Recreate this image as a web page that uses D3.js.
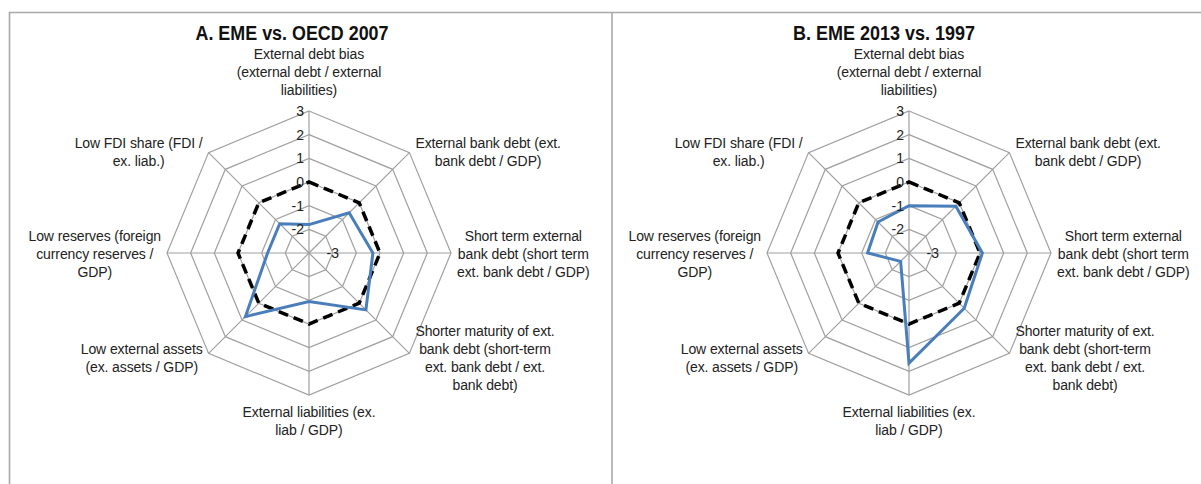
<!DOCTYPE html>
<html>
<head>
<meta charset="utf-8">
<script src="https://cdn.jsdelivr.net/npm/d3@7"></script>
<style>
  body { margin: 0; background: #fff; }
  svg { display: block; font-family: "Liberation Sans", Arial, sans-serif; }
</style>
</head>
<body>
<div class="container"></div>
<script>
'use strict';

// Axis labels, clockwise from the top
const axisLabels = [
  ['External debt bias', '(external debt / external', 'liabilities)'],
  ['External bank debt (ext.', 'bank debt / GDP)'],
  ['Short term external', 'bank debt (short term', 'ext. bank debt / GDP)'],
  ['Shorter maturity of ext.', 'bank debt (short-term', 'ext. bank debt / ext.', 'bank debt)'],
  ['External liabilities (ex.', 'liab / GDP)'],
  ['Low external assets', '(ex. assets / GDP)'],
  ['Low reserves (foreign', 'currency reserves /', 'GDP)'],
  ['Low FDI share (FDI /', 'ex. liab.)']
];

const tickValues = [3, 2, 1, 0, -1, -2, -3];

// Panel A
const emeVsOecd2007 = [-1.8, -0.6, -0.3, 0.4, -0.95, 0.8, -1.25, -1.25];
const oecd2007 = [0, 0, 0, 0, 0, 0, 0, 0];

// Panel B
const eme2013 = [-1.0, -0.2, 0.1, 0.3, 1.65, -2.5, -1.25, -1.15];
const eme1997 = [0, 0, 0, 0, 0, 0, 0, 0];

const panelTitles = ['A. EME vs. OECD 2007', 'B. EME 2013 vs. 1997'];

(function () {
  const width = 1201, height = 484;
  const radius = 142;
  const cy = 253;
  const n = axisLabels.length;
  const step = 2 * Math.PI / n;

  const panels = [
    { title: panelTitles[0], cx: 309, titleX: 292, titleW: 193, series: emeVsOecd2007, ref: oecd2007 },
    { title: panelTitles[1], cx: 909, titleX: 884, titleW: 182, series: eme2013, ref: eme1997 }
  ];

  const svg = d3.select('.container').append('svg')
    .attr('width', width)
    .attr('height', height);

  // panel frames
  svg.append('path')
    .attr('d', 'M9.5,' + height + 'V12.5H' + width + 'M612,12.5V' + height)
    .attr('fill', 'none')
    .attr('stroke', '#a9a9a9')
    .attr('stroke-width', 1.6);

  const r = d3.scaleLinear().domain([-3, 3]).range([0, radius]);

  const radial = d3.lineRadial()
    .angle((d, i) => i * step)
    .radius(d => r(d))
    .curve(d3.curveLinearClosed);

  panels.forEach(p => {
    const g = svg.append('g').attr('transform', 'translate(' + p.cx + ',' + cy + ')');

    svg.append('text')
      .attr('x', p.titleX)
      .attr('y', 40)
      .attr('text-anchor', 'middle')
      .attr('font-size', 20)
      .attr('font-weight', 'bold')
      .attr('fill', '#111')
      .attr('textLength', p.titleW)
      .attr('lengthAdjust', 'spacingAndGlyphs')
      .text(p.title);

    // rings
    g.selectAll('path.ring')
      .data(tickValues.filter(t => t > -3))
      .enter().append('path')
      .attr('class', 'ring')
      .attr('d', t => radial(d3.range(n).map(() => t)))
      .attr('fill', 'none')
      .attr('stroke', '#a0a0a0')
      .attr('stroke-width', 1.2);

    // spokes
    g.selectAll('line.spoke')
      .data(d3.range(n))
      .enter().append('line')
      .attr('class', 'spoke')
      .attr('x1', 0).attr('y1', 0)
      .attr('x2', i => r(3) * Math.sin(i * step))
      .attr('y2', i => -r(3) * Math.cos(i * step))
      .attr('stroke', '#a0a0a0')
      .attr('stroke-width', 1.2);

    // reference (dashed) and series (blue)
    g.append('path')
      .attr('d', radial(p.ref))
      .attr('fill', 'none')
      .attr('stroke', '#000')
      .attr('stroke-width', 3.5)
      .attr('stroke-dasharray', '10,6');

    g.append('path')
      .attr('d', radial(p.series))
      .attr('fill', 'none')
      .attr('stroke', '#4a7ebb')
      .attr('stroke-width', 3)
      .attr('stroke-linejoin', 'miter');

    // tick labels along the top axis
    g.selectAll('text.tick')
      .data(tickValues)
      .enter().append('text')
      .attr('class', 'tick')
      .attr('x', d => d === -3 ? 30 : -5)
      .attr('y', d => -r(d) + 5)
      .attr('text-anchor', 'end')
      .attr('font-size', 14)
      .attr('fill', '#222')
      .text(d => d);

    // axis labels
    axisLabels.forEach((lines, i) => {
      const a = i * step;
      const sx = Math.abs(Math.sin(a)) < 1e-6 ? 0 : Math.sign(Math.sin(a));
      const sy = Math.abs(Math.cos(a)) < 1e-6 ? 0 : -Math.sign(Math.cos(a));
      const vx = r(3) * Math.sin(a);
      const vy = -r(3) * Math.cos(a);
      const lh = 18;
      const lab = g.append('g');
      const t = lab.append('text')
        .attr('text-anchor', 'middle')
        .attr('font-size', 14)
        .attr('letter-spacing', -0.1)
        .attr('fill', '#222');
      lines.forEach((s, k) => {
        t.append('tspan')
          .attr('x', 0)
          .attr('y', (k - (lines.length - 1) / 2) * lh + 5)
          .text(s);
      });
      let w = 0;
      t.selectAll('tspan').each(function () { w = Math.max(w, this.getComputedTextLength()); });
      const blockH = lines.length * lh;
      let x, y;
      if (sx === 0) {
        x = vx;
        y = sy < 0 ? vy - 12 - blockH / 2 : vy + 8 + blockH / 2;
      } else {
        x = vx + sx * (6 + w / 2);
        y = vy + (sy > 0 ? 5 : sy < 0 ? -1 : 1);
      }
      lab.attr('transform', 'translate(' + x + ',' + y + ')');
    });
  });
})();
</script>
</body>
</html>
